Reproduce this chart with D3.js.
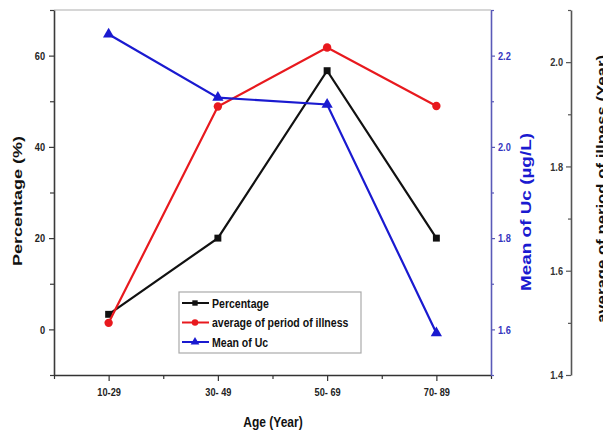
<!DOCTYPE html>
<html>
<head>
<meta charset="utf-8">
<script src="https://cdn.jsdelivr.net/npm/d3@7"></script>
<style>
  body { margin: 0; background: #fff; }
  svg { font-family: "Liberation Sans", Arial, sans-serif; font-weight: bold; }
</style>
</head>
<body>
<script>
const width = 603;
const height = 430;
const plotLeft = 54, plotRight = 491, plotTop = 10, plotBottom = 375;
const illAxisX = 571;

// data
const ageGroups = ["10-29", "30- 49", "50- 69", "70- 89"];
const percentage = [3.3, 20, 56.7, 20];
const illness = [1.5, 1.915, 2.028, 1.916];
const meanUc = [2.247, 2.108, 2.093, 1.592];

const pctTicks = [0, 20, 40, 60];
const ucTicks = [1.6, 1.8, 2.0, 2.2];
const illTicks = [1.4, 1.6, 1.8, 2.0];

const blue = "#1a1ad0";
const red = "#e8191e";

let svg = d3.select("body")
    .append("svg")
    .attr("width", width)
    .attr("height", height);

var xScale = d3.scaleLinear().domain([0, 4]).range([plotLeft, plotRight]);
var yPct = d3.scaleLinear().domain([-10, 70]).range([plotBottom, plotTop]);
var yUc = d3.scaleLinear().domain([1.5, 2.3]).range([plotBottom, plotTop]);
var yIll = d3.scaleLinear().domain([1.4, 2.1]).range([plotBottom, plotTop]);

function xPos(i) {
    return xScale(i + 0.5);
}

// the source picture is squeezed sideways, so horizontal text looks narrow
function condense(sel, f) {
    sel.each(function() {
        let w = this.getComputedTextLength();
        d3.select(this).attr("textLength", w * f).attr("lengthAdjust", "spacingAndGlyphs");
    });
}

// top frame line
svg.append("line")
    .attr("x1", plotLeft).attr("x2", plotRight)
    .attr("y1", plotTop).attr("y2", plotTop)
    .attr("stroke", "#c8c8c8").attr("stroke-width", 1.5);

function styleAxis(g, color, labelColor) {
    g.select(".domain").attr("stroke", color).attr("stroke-width", 1.6);
    g.selectAll(".tick line").attr("stroke", color).attr("stroke-width", 1.2);
    g.selectAll(".tick text").attr("fill", labelColor).attr("font-size", 11.5).attr("font-weight", "bold");
    condense(g.selectAll(".tick text"), 0.8);
}

// left axis (percentage)
let gL = svg.append("g").attr("transform", "translate(" + plotLeft + ",0)");
gL.append("g").call(d3.axisLeft(yPct).tickValues([-10, 10, 30, 50, 70]).tickSize(4).tickFormat("")).select(".domain").remove();
gL.append("g").call(d3.axisLeft(yPct).tickValues(pctTicks).tickSize(5).tickSizeOuter(0).tickPadding(4).tickFormat(d3.format("d")));
styleAxis(gL, "#3a3a3a", "#222");

// bottom axis
let gB = svg.append("g").attr("transform", "translate(0," + plotBottom + ")");
gB.append("g").call(d3.axisBottom(xScale).tickValues([0, 1, 2, 3, 4]).tickSize(4).tickFormat("")).select(".domain").remove();
gB.append("g").call(d3.axisBottom(xScale).tickValues([0.5, 1.5, 2.5, 3.5]).tickSize(6).tickSizeOuter(0).tickPadding(7)
    .tickFormat(function(d) { return ageGroups[Math.floor(d)]; }));
styleAxis(gB, "#333", "#222");

// right blue axis (Mean of Uc)
let gU = svg.append("g").attr("transform", "translate(" + plotRight + ",0)");
gU.append("g").call(d3.axisRight(yUc).tickValues([1.5, 1.7, 1.9, 2.1, 2.3]).tickSize(3).tickFormat("")).select(".domain").remove();
gU.append("g").call(d3.axisRight(yUc).tickValues(ucTicks).tickSize(4).tickSizeOuter(0).tickPadding(3).tickFormat(d3.format(".1f")));
styleAxis(gU, "#5a5ab8", "#3535c0");

// far right axis (average period of illness)
let gI = svg.append("g").attr("transform", "translate(" + illAxisX + ",0)");
gI.append("g").call(d3.axisLeft(yIll).tickValues([1.5, 1.7, 1.9, 2.1]).tickSize(3).tickFormat("")).select(".domain").remove();
gI.append("g").call(d3.axisLeft(yIll).tickValues(illTicks).tickSize(5).tickSizeOuter(0).tickPadding(3).tickFormat(d3.format(".1f")));
styleAxis(gI, "#555", "#333");

// axis titles
svg.append("text")
    .attr("transform", "translate(22,201) rotate(-90)")
    .attr("text-anchor", "middle")
    .attr("font-size", 13)
    .attr("textLength", 130)
    .attr("lengthAdjust", "spacingAndGlyphs")
    .attr("fill", "#111")
    .text("Percentage (%)");

svg.append("text")
    .attr("transform", "translate(531,212) rotate(-90)")
    .attr("text-anchor", "middle")
    .attr("font-size", 15)
    .attr("textLength", 158)
    .attr("lengthAdjust", "spacingAndGlyphs")
    .attr("fill", blue)
    .text("Mean of Uc (\u00b5g/L)");

svg.append("text")
    .attr("transform", "translate(607,189) rotate(-90)")
    .attr("text-anchor", "middle")
    .attr("font-size", 14)
    .attr("textLength", 268)
    .attr("lengthAdjust", "spacingAndGlyphs")
    .attr("fill", "#111")
    .text("average of period of illness (Year)");

let xTitle = svg.append("text")
    .attr("x", 273)
    .attr("y", 427)
    .attr("text-anchor", "middle")
    .attr("font-size", 15)
    .attr("fill", "#111")
    .text("Age (Year)");
condense(xTitle, 0.8);

// series
let series = [
    { name: "Percentage", values: percentage, scale: yPct, color: "#111", symbol: d3.symbolSquare, size: 48 },
    { name: "average of period of illness", values: illness, scale: yIll, color: red, symbol: d3.symbolCircle, size: 55 },
    { name: "Mean of Uc", values: meanUc, scale: yUc, color: blue, symbol: d3.symbolTriangle, size: 55 }
];

series.forEach(function(s) {
    let line = d3.line()
        .x(function(d, i) { return xPos(i); })
        .y(function(d) { return s.scale(d); });
    svg.append("path")
        .datum(s.values)
        .attr("d", line)
        .attr("fill", "none")
        .attr("stroke", s.color)
        .attr("stroke-width", 2.2);
    svg.selectAll(null)
        .data(s.values)
        .enter()
        .append("path")
        .attr("d", d3.symbol().type(s.symbol).size(s.size))
        .attr("transform", function(d, i) {
            return "translate(" + xPos(i) + "," + s.scale(d) + ")";
        })
        .attr("fill", s.color);
});

// legend
let legend = svg.append("g").attr("transform", "translate(179,292)");
legend.append("rect")
    .attr("width", 182).attr("height", 61)
    .attr("fill", "#fff")
    .attr("stroke", "#aaa").attr("stroke-width", 1.2);

let items = legend.selectAll("g.item")
    .data(series)
    .enter()
    .append("g")
    .attr("class", "item")
    .attr("transform", function(d, i) { return "translate(0," + (11 + i * 19.5) + ")"; });

items.append("line")
    .attr("x1", 3).attr("x2", 30)
    .attr("stroke", function(d) { return d.color; })
    .attr("stroke-width", 2);
items.append("path")
    .attr("d", function(d) { return d3.symbol().type(d.symbol).size(d.size * 0.6)(); })
    .attr("transform", "translate(16,0)")
    .attr("fill", function(d) { return d.color; });
let legendText = items.append("text")
    .attr("x", 33)
    .attr("y", 4.5)
    .attr("font-size", 13.5)
    .attr("fill", "#111")
    .text(function(d) { return d.name; });
condense(legendText, 0.78);
</script>
</body>
</html>
